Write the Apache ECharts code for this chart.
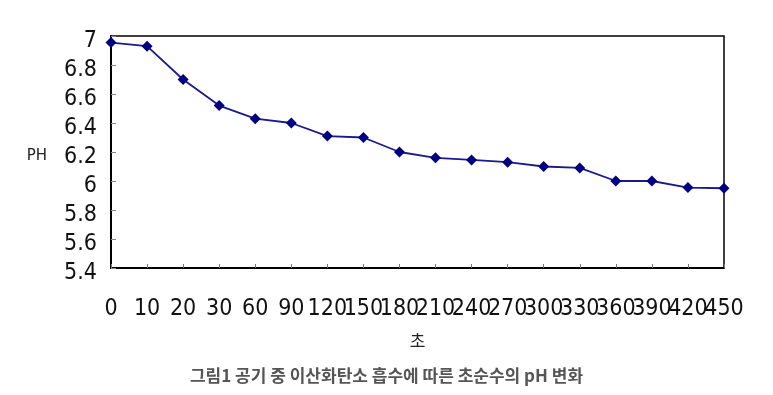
<!DOCTYPE html>
<html>
<head>
<meta charset="utf-8">
<script src="https://cdn.jsdelivr.net/npm/echarts@6/dist/echarts.min.js"></script>
<style>
html,body{margin:0;padding:0;background:#fff;}
#chart{width:773px;height:395px;}
</style>
</head>
<body>
<div id="chart"></div>
<script>
var categories = ['0','10','20','30','60','90','120','150','180','210','240','270','300','330','360','390','420','450'];
var phValues = [6.955, 6.93, 6.70, 6.52, 6.43, 6.40, 6.31, 6.30, 6.20, 6.16, 6.145, 6.13, 6.10, 6.09, 6.00, 6.00, 5.955, 5.95];
var yTicks = { min: 5.4, max: 7, step: 0.2 };
var titleText = '그림1 공기 중 이산화탄소 흡수에 따른 초순수의 pH 변화';
var xName = '초';
var yName = 'PH';

var numFont = '"DejaVu Sans Condensed", "Liberation Sans Narrow", "DejaVu Sans", sans-serif';
var chart = echarts.init(document.getElementById('chart'));
chart.setOption({
  animation: false,
  backgroundColor: '#fff',
  title: {
    text: titleText,
    left: 'center',
    top: 362,
    textStyle: { fontFamily: '"Noto Sans CJK KR", sans-serif', fontSize: 17, fontWeight: 'bold', color: '#555' }
  },
  grid: {
    left: 111, right: 49, top: 36, bottom: 127,
    show: true, borderColor: '#000', borderWidth: 1.5
  },
  xAxis: {
    type: 'category',
    data: categories,
    boundaryGap: false,
    name: xName,
    nameLocation: 'middle',
    nameGap: 64,
    nameTextStyle: { fontFamily: '"Noto Sans CJK KR", sans-serif', fontSize: 17, color: '#222' },
    axisLine: { lineStyle: { color: '#000', width: 2 } },
    axisTick: { inside: true, length: 4, alignWithLabel: true, lineStyle: { color: '#777' } },
    axisLabel: { interval: 0, margin: 30, fontFamily: numFont, fontSize: 23, color: '#111' },
    splitLine: { show: false }
  },
  yAxis: {
    type: 'value',
    min: yTicks.min, max: yTicks.max, interval: yTicks.step,
    name: yName,
    nameLocation: 'middle',
    nameRotate: 0,
    nameGap: 64,
    nameTextStyle: { fontFamily: '"DejaVu Sans", sans-serif', fontSize: 15, color: '#222', verticalAlign: 'top', lineHeight: 8 },
    axisLine: { show: true, lineStyle: { color: '#000', width: 2 } },
    axisTick: { show: true, inside: true, length: 5, lineStyle: { color: '#888' } },
    axisLabel: { margin: 14, fontFamily: numFont, fontSize: 23, color: '#111', verticalAlign: 'top', lineHeight: 11 },
    splitLine: { show: false }
  },
  series: [{
    type: 'line',
    data: phValues,
    symbol: 'diamond',
    symbolSize: 11,
    itemStyle: { color: '#000080' },
    lineStyle: { color: '#1a1a8a', width: 1.8 }
  }]
});
</script>
</body>
</html>
